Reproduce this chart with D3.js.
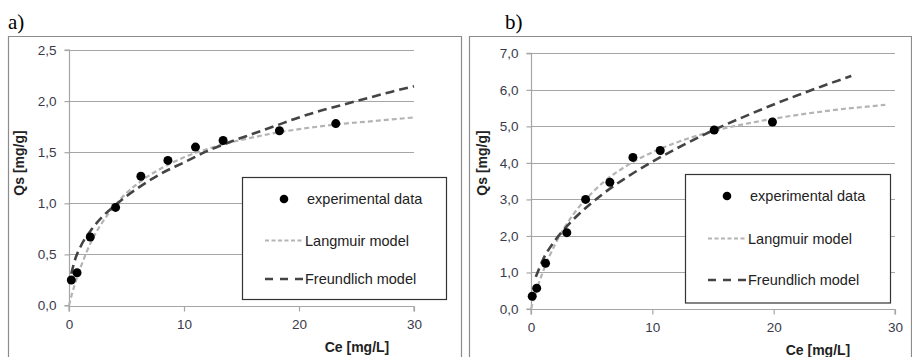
<!DOCTYPE html>
<html><head><meta charset="utf-8">
<script src="https://cdn.jsdelivr.net/npm/d3@7"></script>
<style>
body{margin:0;background:#fff;}
svg{display:block;}
text{font-family:"Liberation Sans",Arial,sans-serif;}
</style></head>
<body>
<svg id="c" width="912" height="357"></svg>
<script>
// ---- data: panel a ----
const aExpCe = [0.2, 0.7, 1.85, 4.05, 6.25, 8.6, 11.0, 13.4, 18.3, 23.2];
const aExpQs = [0.25, 0.32, 0.67, 0.96, 1.265, 1.42, 1.55, 1.615, 1.71, 1.78];
const aLangCe = [0, 0.25, 0.5, 1, 2, 3, 4, 5, 6, 8, 10, 12, 14, 16, 18, 20, 22, 24, 26, 28, 30];
const aLangQs = [0, 0.11, 0.205, 0.37, 0.64, 0.83, 0.98, 1.10, 1.195, 1.34, 1.45, 1.53, 1.595, 1.645, 1.69, 1.725, 1.755, 1.78, 1.80, 1.82, 1.84];
const aFreuCe = [0.2, 0.5, 1, 2, 3, 4, 5, 6, 8, 10, 12, 14, 16, 18, 20, 22, 24, 26, 28, 30];
const aFreuQs = [0.31, 0.44, 0.575, 0.75, 0.88, 0.98, 1.07, 1.15, 1.29, 1.40, 1.51, 1.60, 1.68, 1.76, 1.84, 1.91, 1.97, 2.03, 2.09, 2.145];
const aYTicks = [0, 0.5, 1.0, 1.5, 2.0, 2.5];
// ---- data: panel b ----
const bExpCe = [0.1, 0.47, 1.2, 2.95, 4.5, 6.5, 8.4, 10.65, 15.1, 19.9];
const bExpQs = [0.35, 0.57, 1.25, 2.09, 3.0, 3.47, 4.15, 4.34, 4.9, 5.12];
const bLangCe = [0, 0.25, 0.5, 1, 2, 3, 4, 5, 6, 8, 10, 12, 14, 16, 18, 20, 22, 24, 26, 28, 29.2];
const bLangQs = [0, 0.29, 0.56, 1.03, 1.78, 2.355, 2.81, 3.17, 3.48, 3.945, 4.29, 4.56, 4.775, 4.95, 5.09, 5.21, 5.315, 5.405, 5.485, 5.55, 5.59];
const bFreuCe = [0.4, 1, 2, 3, 4, 5, 6, 8, 10, 12, 14, 16, 18, 20, 22, 24, 26.4];
const bFreuQs = [0.88, 1.36, 1.885, 2.28, 2.615, 2.905, 3.17, 3.63, 4.03, 4.395, 4.73, 5.04, 5.325, 5.6, 5.855, 6.1, 6.38];
const bYTicks = [0, 1, 2, 3, 4, 5, 6, 7];
const xTicks = [0, 10, 20, 30];
const legendLabels = ["experimental data", "Langmuir model", "Freundlich model"];
const panelLabels = ["a)", "b)"];
const xTitle = "Ce [mg/L]";
const yTitle = "Qs [mg/g]";

const svg = d3.select("#c");
const fmt = v => d3.format(".1f")(v).replace(".", ",");

function drawPanel(p) {
  const g = svg.append("g");
  // frame
  g.append("path")
    .attr("d", `M${p.box[0]+0.5},${p.box[3]} V${p.box[1]+0.5} H${p.box[2]+0.5} V${p.box[3]}`)
    .attr("fill", "none").attr("stroke", "#8c8c8c").attr("stroke-width", 1.2);
  g.append("text").text(p.label)
    .attr("x", p.labelX).attr("y", 29)
    .style("font-family", "'Liberation Serif','Times New Roman',serif")
    .style("font-size", "21px").attr("fill", "#000");

  const x = d3.scaleLinear().domain([0, 30]).range([p.x0, p.x1]);
  const y = d3.scaleLinear().domain([0, p.yMax]).range([p.y0, p.y1]);

  // gridlines
  g.append("g").selectAll("line").data(p.yTicks.filter(d => d > 0)).join("line")
    .attr("x1", x(0)).attr("x2", x(30))
    .attr("y1", d => Math.round(y(d)) + 0.5).attr("y2", d => Math.round(y(d)) + 0.5)
    .attr("stroke", "#a6a6a6").attr("stroke-width", 1.2);

  // y axis
  const ya = g.append("g").attr("transform", `translate(${Math.round(x(0)) + 0.5},0)`)
    .call(d3.axisLeft(y).tickValues(p.yTicks).tickFormat(fmt).tickSize(5).tickPadding(8));
  ya.select(".domain").attr("stroke", "#a6a6a6").attr("stroke-width", 1.2).attr("d", `M-5,${y(0)}H0V${y(p.yMax)}H-5`);
  ya.selectAll(".tick line").attr("stroke", "#a6a6a6").attr("stroke-width", 1.2);
  ya.selectAll(".tick text").style("font-size", "13.5px").attr("fill", "#3a3a4a");

  // x axis
  const xa = g.append("g").attr("transform", `translate(0,${Math.round(y(0)) + 0.5})`)
    .call(d3.axisBottom(x).tickValues(xTicks).tickFormat(d3.format("d")).tickSize(5).tickPadding(8));
  xa.select(".domain").attr("stroke", "#a6a6a6").attr("stroke-width", 1.2).attr("d", `M${x(0)},5V0H${x(30)}V5`);
  xa.selectAll(".tick line").attr("stroke", "#a6a6a6").attr("stroke-width", 1.2);
  xa.selectAll(".tick text").style("font-size", "13.5px").attr("fill", "#3a3a4a");

  // titles
  g.append("text").text(xTitle).attr("x", p.xTitleX).attr("y", p.xTitleY)
    .attr("text-anchor", "middle").style("font-size", "14px").style("font-weight", "bold").attr("fill", "#222");
  g.append("text").text(yTitle)
    .attr("transform", `translate(${p.yTitleX},163) rotate(-90)`)
    .attr("text-anchor", "middle").style("font-size", "14px").style("font-weight", "bold").attr("fill", "#222");

  const line = d3.line().x(d => x(d[0])).y(d => y(d[1])).curve(d3.curveMonotoneX);
  // Langmuir
  g.append("path").datum(d3.zip(p.langCe, p.langQs)).attr("d", line)
    .attr("fill", "none").attr("stroke", "#b4b4b4").attr("stroke-width", 2.2).attr("stroke-dasharray", "5,3");
  // Freundlich
  g.append("path").datum(d3.zip(p.freuCe, p.freuQs)).attr("d", line)
    .attr("fill", "none").attr("stroke", "#444").attr("stroke-width", 2.6).attr("stroke-dasharray", "9,5");
  // experimental data
  g.append("g").selectAll("circle").data(d3.zip(p.expCe, p.expQs)).join("circle")
    .attr("cx", d => x(d[0])).attr("cy", d => y(d[1])).attr("r", 4.5).attr("fill", "#000");

  // legend
  const L = p.legend;
  const lg = g.append("g");
  lg.append("rect").attr("x", L[0] + 0.5).attr("y", L[1] + 0.5).attr("width", L[2] - L[0]).attr("height", L[3] - L[1])
    .attr("fill", "#fff").attr("stroke", "#333").attr("stroke-width", 1.2);
  const rows = L[4];
  lg.append("circle").attr("cx", L[0] + 42).attr("cy", rows[0]).attr("r", 4.3).attr("fill", "#000");
  lg.append("line").attr("x1", L[0] + 23).attr("x2", L[0] + 62).attr("y1", rows[1]).attr("y2", rows[1])
    .attr("stroke", "#b4b4b4").attr("stroke-width", 2).attr("stroke-dasharray", "4,2.5");
  lg.append("line").attr("x1", L[0] + 23).attr("x2", L[0] + 63).attr("y1", rows[2]).attr("y2", rows[2])
    .attr("stroke", "#444").attr("stroke-width", 2.4).attr("stroke-dasharray", "8,7");
  legendLabels.forEach((t, i) => {
    lg.append("text").text(t).attr("x", L[0] + (i === 0 ? 65 : 63)).attr("y", rows[i] + 5)
      .style("font-size", "14.5px").attr("fill", "#222");
  });
}

drawPanel({
  label: panelLabels[0], labelX: 8,
  box: [8, 36, 461, 360],
  x0: 69, x1: 414, y0: 305.5, y1: 50, yMax: 2.5, yTicks: aYTicks,
  expCe: aExpCe, expQs: aExpQs, langCe: aLangCe, langQs: aLangQs, freuCe: aFreuCe, freuQs: aFreuQs,
  xTitleX: 357, xTitleY: 352, yTitleX: 24,
  legend: [242, 177, 446, 299, [199, 240.5, 279]]
});
drawPanel({
  label: panelLabels[1], labelX: 505,
  box: [469, 36, 911, 360],
  x0: 531, x1: 895, y0: 309, y1: 53.3, yMax: 7, yTicks: bYTicks,
  expCe: bExpCe, expQs: bExpQs, langCe: bLangCe, langQs: bLangQs, freuCe: bFreuCe, freuQs: bFreuQs,
  xTitleX: 818, xTitleY: 355, yTitleX: 487,
  legend: [685, 174, 890, 302.5, [196, 238.5, 280]]
});
</script>
</body></html>
